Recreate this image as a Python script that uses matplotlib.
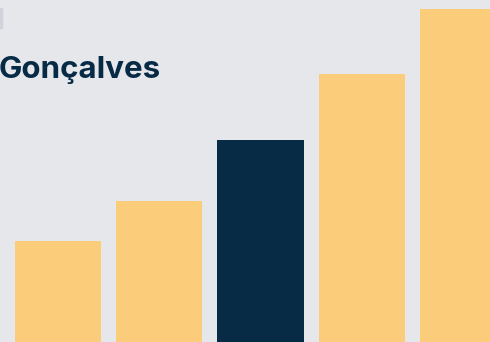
import matplotlib
matplotlib.use("Agg")
import matplotlib.pyplot as plt
from matplotlib.patches import Rectangle

# bar heights (pixels above bottom edge)
values = [101, 141, 202, 268, 333]
highlight = 2
title = "Gonçalves"

bg = "#e6e7eb"
yellow = "#fbcd7a"
navy = "#072a45"

fig = plt.figure(figsize=(4.9, 3.42), dpi=100, facecolor=bg)
ax = fig.add_axes([0, 0, 1, 1])
ax.set_facecolor(bg)

colors = [navy if i == highlight else yellow for i in range(len(values))]
ax.bar(range(len(values)), values, width=0.85, color=colors, linewidth=0)
ax.set_xlim(-58 / 101.25, (490 - 58) / 101.25)
ax.set_ylim(0, 342)
ax.axis("off")

fig.text(-0.002, 1 - 78 / 342, title, fontsize=22.5, fontweight="bold",
         family="Inter", color=navy, ha="left", va="baseline")

# small cropped marker in the top-left corner
fig.patches.append(Rectangle((0, 1 - 28 / 342), 1.5 / 490, 20 / 342,
                             transform=fig.transFigure, color="#d0d4da"))

fig.savefig("out.png", dpi=100, facecolor=bg)
